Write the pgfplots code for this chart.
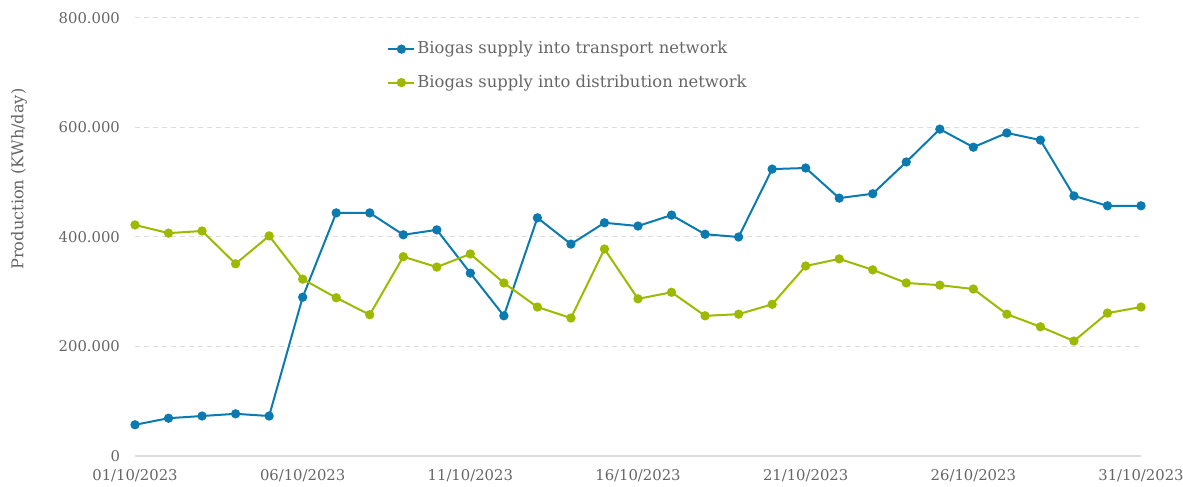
\documentclass[border=0pt]{standalone}
\usepackage{pgfplots}
\pgfplotsset{compat=1.18}
\usepackage{fontspec}
\setmainfont{DejaVu Serif}
\definecolor{txt}{HTML}{666666}
\definecolor{transp}{HTML}{0A7AB0}
\definecolor{distr}{HTML}{9DBA00}
\definecolor{gridc}{HTML}{DDDDDD}

\pgfplotstableread{
day transport distribution
1  57000  422000
2  69000  407000
3  73000  411000
4  77000  351000
5  73000  402000
6  290000 323000
7  444000 289000
8  444000 258000
9  404000 364000
10 413000 345000
11 334000 369000
12 256000 316000
13 435000 272000
14 387000 252000
15 426000 378000
16 420000 287000
17 440000 299000
18 405000 256000
19 400000 259000
20 524000 277000
21 526000 347000
22 471000 360000
23 479000 340000
24 537000 316000
25 597000 312000
26 564000 305000
27 590000 259000
28 577000 236000
29 475000 210000
30 457000 261000
31 457000 272000
}\data

\begin{document}
\begin{tikzpicture}
\begin{axis}[
    name=ax,
    scale only axis,
    width=503pt, height=219pt,
    xmin=1, xmax=31, ymin=0, ymax=800000,
    axis x line*=bottom, axis y line*=left,
    axis line style={draw=none},
    scaled y ticks=false,
    xtick={1,6,11,16,21,26,31},
    xticklabels={01/10/2023,06/10/2023,11/10/2023,16/10/2023,21/10/2023,26/10/2023,31/10/2023},
    ytick={0,200000,400000,600000,800000},
    yticklabels={0,200.000,400.000,600.000,800.000},
    tick style={draw=none},
    ticklabel style={font=\fontsize{7.4}{8}\selectfont, text=txt},
    xticklabel style={yshift=-3pt},
    yticklabel style={xshift=-4pt},
    ylabel={Production (KWh/day)},
    every axis y label/.style={at={(rel axis cs:0,0.632)}, xshift=-58pt, rotate=90, anchor=center,
        font=\fontsize{8.1}{9}\selectfont, text=txt},
    ymajorgrids,
    major grid style={gridc, dash pattern=on 2.5pt off 2pt, line width=0.5pt},
    legend style={at={(0.2505,0.952)}, anchor=north west, draw=none, fill=none,
        font=\fontsize{8.2}{10}\selectfont, text=txt,
        row sep=7pt, inner sep=0pt, nodes={inner sep=1pt}},
    legend cell align=left,
    legend image code/.code={
        \draw[#1, mark repeat=2, mark phase=2] plot coordinates {(0pt,0pt) (6.5pt,0pt) (13pt,0pt)};
    },
    clip=false,
]
\draw[gridc, line width=0.8pt] (axis cs:1,0) -- (axis cs:31,0);
\addplot[color=transp, line width=1pt, mark=*, mark size=1.8pt] table[x=day, y=transport] {\data};
\addlegendentry{Biogas supply into transport network}
\addplot[color=distr, line width=1pt, mark=*, mark size=1.8pt] table[x=day, y=distribution] {\data};
\addlegendentry{Biogas supply into distribution network}
\end{axis}
\pgfresetboundingbox
\path[use as bounding box] ([xshift=-67.5pt, yshift=-15.5pt]ax.south west) rectangle ([xshift=21pt, yshift=9pt]ax.north east);
\end{tikzpicture}
\end{document}
